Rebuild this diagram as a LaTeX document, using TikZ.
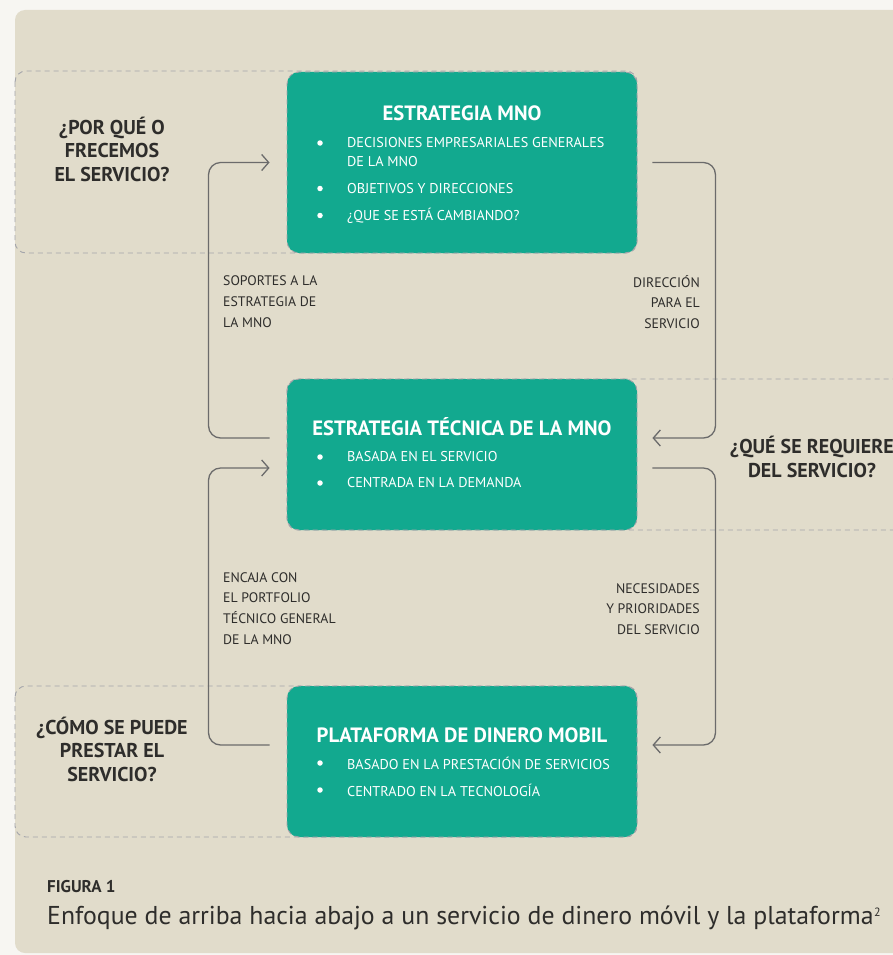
\documentclass[tikz,border=0pt]{standalone}
\usepackage{fontspec}
\setmainfont{PT Sans}
\usetikzlibrary{arrows.meta}
\definecolor{bgout}{HTML}{F7F6F2}
\definecolor{beige}{HTML}{E1DCCB}
\definecolor{boxgreen}{HTML}{12A98F}
\definecolor{dashgray}{HTML}{A3A4AA}
\definecolor{linegray}{HTML}{6B6B6B}
\definecolor{ink}{HTML}{2E2D2B}
\tikzset{
  zone/.style={draw=dashgray, dash pattern=on 5pt off 4pt, line width=0.9pt, rounded corners=11pt},
  gbox/.style={fill=boxgreen, draw=dashgray, dash pattern=on 5pt off 4pt, line width=0.9pt, rounded corners=12pt, minimum width=350pt, inner sep=0pt},
  conn/.style={draw=linegray, line width=1.3pt, rounded corners=12pt, -{Straight Barb[length=7pt,width=16pt]}},
  question/.style={text=ink, font=\bfseries\fontsize{20}{23.5}\selectfont, align=center, inner sep=0pt},
  label/.style={text=ink, font=\fontsize{13.8}{20.8}\selectfont, inner sep=0pt},
  boxtitle/.style={text=white, font=\bfseries\fontsize{20.7}{24}\selectfont, inner sep=0pt, text height=14.5pt, text depth=0pt},
  item/.style={text=white, font=\fontsize{14.2}{19}\selectfont, inner sep=0pt, anchor=west, align=left},
  dot/.style={circle, fill=white, minimum size=5.5pt, inner sep=0pt},
}
\begin{document}
\begin{tikzpicture}[x=1pt,y=-1pt]
\useasboundingbox (0,0) rectangle (893,955);
\clip (0,0) rectangle (893,955);
\fill[bgout] (0,0) rectangle (893,955);
\fill[beige, rounded corners=10pt] (15,10) rectangle (930,953);

% dashed zones
\draw[zone] (15,71) rectangle (637,253);
\draw[zone] (287,379) rectangle (940,530);
\draw[zone] (15,686) rectangle (637,837);

% green boxes
\node[gbox, minimum height=181pt] (top) at (462,162.5) {};
\node[gbox, minimum height=151pt] (mid) at (462,454.5) {};
\node[gbox, minimum height=151pt] (bot) at (462,761.5) {};

% connectors
\draw[conn] ([xshift=-17pt,yshift=16.5pt]mid.west) -- ++(-61,0) |- ([xshift=-17pt]top.west);
\draw[conn] ([xshift=15pt]top.east) -- ++(63,0) |- ([xshift=15pt,yshift=16.5pt]mid.east);
\draw[conn] ([xshift=-17pt,yshift=16.5pt]bot.west) -- ++(-61,0) |- ([xshift=-17pt,yshift=-13.5pt]mid.west);
\draw[conn] ([xshift=15pt,yshift=-13.5pt]mid.east) -- ++(63,0) |- ([xshift=15pt,yshift=16.5pt]bot.east);

% questions
\node[question] (q1) at (112,149) {¿POR QUÉ O\\FRECEMOS\\EL SERVICIO?};
\node[question] (q2) at (812,457) {¿QUÉ SE REQUIERE\\DEL SERVICIO?};
\node[question] (q3) at (112,749) {¿CÓMO SE PUEDE\\PRESTAR EL\\SERVICIO?};

% side labels
\node[label, align=left, anchor=west] (l1) at (223,301.5) {SOPORTES A LA\\ESTRATEGIA DE\\LA MNO};
\node[label, align=right, anchor=east] (l2) at (700,302) {DIRECCIÓN\\PARA EL\\SERVICIO};
\node[label, align=left, anchor=west] (l3) at (223,608.5) {ENCAJA CON\\EL PORTFOLIO\\TÉCNICO GENERAL\\DE LA MNO};
\node[label, align=right, anchor=east] (l4) at (700,609) {NECESIDADES\\Y PRIORIDADES\\DEL SERVICIO};

% top box content
\node[boxtitle] (t1) at (462,113) {ESTRATEGIA MNO};
\node[dot] (d11) at (320,143) {};
\node[item] (i11) at (347,152) {DECISIONES EMPRESARIALES GENERALES\\DE LA MNO};
\node[dot] (d12) at (320,188.5) {};
\node[item] (i12) at (347,188.5) {OBJETIVOS Y DIRECCIONES};
\node[dot] (d13) at (320,215.5) {};
\node[item] (i13) at (347,215.5) {¿QUE SE ESTÁ CAMBIANDO?};

% mid box content
\node[boxtitle] (t2) at (462,428) {ESTRATEGIA TÉCNICA DE LA MNO};
\node[dot] (d21) at (320,457) {};
\node[item] (i21) at (347,457) {BASADA EN EL SERVICIO};
\node[dot] (d22) at (320,483) {};
\node[item] (i22) at (347,483) {CENTRADA EN LA DEMANDA};

% bottom box content
\node[boxtitle] (t3) at (462,735) {PLATAFORMA DE DINERO MOBIL};
\node[dot] (d31) at (320,763) {};
\node[item] (i31) at (347,763) {BASADO EN LA PRESTACIÓN DE SERVICIOS};
\node[dot] (d32) at (320,790) {};
\node[item] (i32) at (347,790) {CENTRADO EN LA TECNOLOGÍA};

% caption
\node[text=ink, font=\bfseries\fontsize{17}{20}\selectfont, anchor=west, inner sep=0pt] (fig) at (47,887) {FIGURA 1};
\node[text=ink, font=\fontsize{25.8}{30}\selectfont, anchor=west, inner sep=0pt] (cap) at (47,918) {Enfoque de arriba hacia abajo a un servicio de dinero móvil y la plataforma\kern0.5pt\raisebox{8.5pt}{\fontsize{12}{12}\selectfont 2}};
\end{tikzpicture}
\end{document}
